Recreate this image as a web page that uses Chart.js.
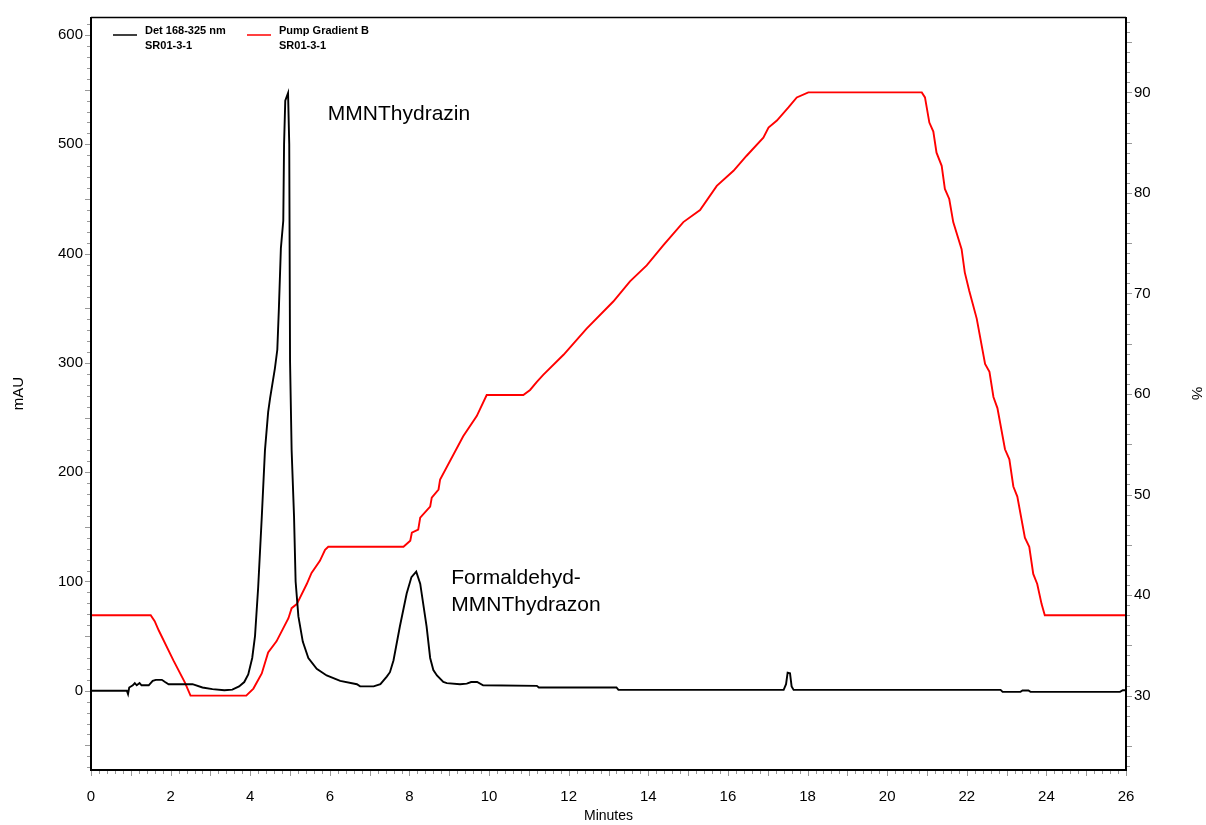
<!DOCTYPE html>
<html>
<head>
<meta charset="utf-8">
<title>SR01-3-1</title>
<script src="https://cdn.jsdelivr.net/npm/chart.js@4.4.1/dist/chart.umd.min.js"></script>
<style>
	body { margin: 0; background: #fff; }
	#wrap { width: 1206px; height: 825px; }
</style>
</head>
<body>
<div id="wrap"><canvas id="chromatogram" width="1206" height="825"></canvas></div>
<script>
'use strict';

// Det 168-325 nm (mAU) vs. minutes
const detTimes = [0, 0.9, 0.93, 0.96, 1.05, 1.1, 1.15, 1.22, 1.27, 1.45, 1.55, 1.63, 1.78, 1.86, 1.95, 2.55, 2.8, 3.05, 3.35, 3.55,
	3.72, 3.85, 3.95, 4.05, 4.12, 4.2, 4.29, 4.37, 4.45, 4.5, 4.62, 4.68, 4.72, 4.77, 4.83, 4.85, 4.88, 4.95, 4.98, 5.0,
	5.04, 5.1, 5.14, 5.21, 5.32, 5.46, 5.67, 5.92, 6.26, 6.68, 6.76, 7.1, 7.27, 7.43, 7.51, 7.6, 7.76, 7.93, 8.05, 8.17,
	8.27, 8.43, 8.52, 8.6, 8.69, 8.85, 8.94, 9.27, 9.44, 9.55, 9.7, 9.85, 11.2, 11.25, 13.2, 13.25, 17.4, 17.46, 17.5, 17.56,
	17.6, 17.65, 22.85, 22.9, 23.35, 23.4, 23.55, 23.6, 25.85, 25.92, 26];
const detValues = [0, 0, -3, 3, 5, 7, 5, 7, 5, 5, 9, 10, 10, 8, 6, 6, 3, 1.5, 0.5, 1,
	4, 8, 15, 30, 50, 95, 159, 220, 255, 268, 295, 312, 350, 405, 430, 500, 540, 547, 500, 302,
	220, 160, 100, 68, 45, 30, 20, 14, 9, 6, 4, 4, 6, 13, 17, 28, 59, 89, 104, 109,
	98, 59, 30, 19, 14, 8, 7, 6, 6.5, 8, 8, 5, 4.5, 3, 3, 0.8, 0.8, 6, 16.5, 16,
	4, 0.8, 0.8, -1, -1, 0.2, 0.2, -1, -1, 0.5, 0.5];

// Pump Gradient B (%) vs. minutes
const gradTimes = [0, 1.5, 1.6, 1.7, 2.07, 2.36, 2.5, 3.9, 4.08, 4.29, 4.45, 4.66, 4.96, 5.04, 5.17, 5.42, 5.54, 5.75, 5.88, 5.96,
	7.85, 8.02, 8.06, 8.22, 8.27, 8.52, 8.56, 8.73, 8.77, 9.35, 9.69, 9.94, 10.86, 11.03, 11.2, 11.36, 11.87, 12.45, 13.12, 13.54,
	13.96, 14.38, 14.88, 15.3, 15.72, 16.14, 16.47, 16.89, 17.02, 17.23, 17.52, 17.73, 18.02, 20.87, 20.95, 21.06, 21.16, 21.24, 21.37, 21.45,
	21.56, 21.66, 21.87, 21.95, 22.06, 22.25, 22.46, 22.57, 22.67, 22.77, 22.96, 23.07, 23.17, 23.27, 23.46, 23.57, 23.67, 23.77, 23.88, 23.96, 26];
const gradValues = [38, 38, 37.4, 36.5, 33.5, 31.3, 30, 30, 30.7, 32.2, 34.3, 35.4, 37.7, 38.7, 39.1, 41.1, 42.2, 43.4, 44.5, 44.8,
	44.8, 45.4, 46.2, 46.5, 47.7, 48.8, 49.7, 50.5, 51.5, 55.8, 57.8, 59.9, 59.9, 60.4, 61.2, 61.9, 63.9, 66.5, 69.2, 71.2,
	72.8, 74.8, 77.1, 78.3, 80.7, 82.2, 83.7, 85.5, 86.5, 87.2, 88.5, 89.5, 90, 90, 89.5, 87.0, 86.1, 84.0, 82.7, 80.4,
	79.4, 77.1, 74.4, 72.1, 70.3, 67.5, 63.0, 62.2, 59.7, 58.6, 54.5, 53.5, 50.8, 49.8, 45.7, 44.8, 42.1, 41.1, 39.1, 38.0, 38];

// tick labels
const minuteTicks = [0, 2, 4, 6, 8, 10, 12, 14, 16, 18, 20, 22, 24, 26];
const mauTicks = [0, 100, 200, 300, 400, 500, 600];
const percentTicks = [30, 40, 50, 60, 70, 80, 90];

// legend + peak names
const seriesNames = [['Det 168-325 nm', 'SR01-3-1'], ['Pump Gradient B', 'SR01-3-1']];
const peakLabels = [
	{ x: 5.95, y: 522, lines: ['MMNThydrazin'] },
	{ x: 9.05, y: 98, lines: ['Formaldehyd-', 'MMNThydrazon'] }
];

const FONT = '"Liberation Sans", Arial, sans-serif';

const toPoints = (xs, ys) => xs.map((x, i) => ({ x: x, y: ys[i] }));

// frame, small ticks, legend and peak names
const decorations = {
	id: 'decorations',
	afterDraw: chart => {
		const ctx = chart.ctx;
		const { left, right, top, bottom } = chart.chartArea;
		const sx = chart.scales.x, sy = chart.scales.y, sy1 = chart.scales.y1;

		ctx.save();

		// minor ticks
		ctx.strokeStyle = '#999999';
		ctx.lineWidth = 1;
		ctx.beginPath();
		for (let v = -7; v <= 61; v++) {
			const py = Math.round(sy.getPixelForValue(v * 10)) + 0.5;
			const len = v % 5 === 0 ? 6 : 4;
			ctx.moveTo(left - len, py);
			ctx.lineTo(left, py);
		}
		for (let v = 23; v <= 97; v++) {
			const py = Math.round(sy1.getPixelForValue(v)) + 0.5;
			const len = v % 5 === 0 ? 6 : 4;
			ctx.moveTo(right, py);
			ctx.lineTo(right + len, py);
		}
		for (let v = 0; v <= 130; v++) {
			const px = Math.round(sx.getPixelForValue(v / 5)) + 0.5;
			const len = v % 5 === 0 ? 6 : 4;
			ctx.moveTo(px, bottom);
			ctx.lineTo(px, bottom + len);
		}
		ctx.stroke();

		// frame
		ctx.strokeStyle = '#000';
		ctx.lineWidth = 2;
		ctx.beginPath();
		ctx.moveTo(left, top);
		ctx.lineTo(left, bottom);
		ctx.lineTo(right, bottom);
		ctx.lineTo(right, top);
		ctx.stroke();
		ctx.lineWidth = 1.5;
		ctx.beginPath();
		ctx.moveTo(left, top + 0.5);
		ctx.lineTo(right, top + 0.5);
		ctx.stroke();

		// legend
		const colors = chart.data.datasets.map(d => d.borderColor);
		const legendX = [left + 22, left + 156];
		ctx.font = 'bold 11px ' + FONT;
		ctx.fillStyle = '#000';
		ctx.textBaseline = 'alphabetic';
		ctx.textAlign = 'left';
		seriesNames.forEach((names, i) => {
			ctx.strokeStyle = colors[i];
			ctx.lineWidth = 1.5;
			ctx.beginPath();
			ctx.moveTo(legendX[i], top + 18);
			ctx.lineTo(legendX[i] + 24, top + 18);
			ctx.stroke();
			names.forEach((n, j) => {
				ctx.fillText(n, legendX[i] + 32, top + 17 + j * 15);
			});
		});

		// peak names
		ctx.font = '21px ' + FONT;
		peakLabels.forEach(p => {
			const px = sx.getPixelForValue(p.x);
			const py = sy.getPixelForValue(p.y);
			p.lines.forEach((l, j) => {
				ctx.fillText(l, px, py + j * 27);
			});
		});

		ctx.restore();
	}
};

const keepTicks = list => scale => {
	scale.ticks = list.map(v => ({ value: v }));
};

new Chart(document.getElementById('chromatogram').getContext('2d'), {
	type: 'line',
	data: {
		datasets: [
			{
				label: seriesNames[0].join(' '),
				data: toPoints(detTimes, detValues),
				yAxisID: 'y',
				borderColor: '#000000',
				borderWidth: 1.9,
				pointRadius: 0,
				tension: 0
			},
			{
				label: seriesNames[1].join(' '),
				data: toPoints(gradTimes, gradValues),
				yAxisID: 'y1',
				borderColor: '#ff0000',
				borderWidth: 1.9,
				pointRadius: 0,
				tension: 0
			}
		]
	},
	options: {
		responsive: false,
		animation: false,
		layout: { padding: { top: 15, left: 0, right: 0, bottom: 0 } },
		plugins: {
			legend: { display: false },
			tooltip: { enabled: false }
		},
		scales: {
			x: {
				type: 'linear',
				min: 0,
				max: 26,
				afterBuildTicks: keepTicks(minuteTicks),
				afterFit: s => { s.height = 55; },
				grid: { display: false, drawTicks: false },
				border: { display: false },
				ticks: { padding: 18, color: '#000', font: { family: FONT, size: 15 }, maxRotation: 0, autoSkip: false },
				title: { display: true, text: 'Minutes', color: '#000', font: { family: FONT, size: 14 }, padding: { top: 0, bottom: 0 } }
			},
			y: {
				type: 'linear',
				position: 'left',
				min: -72.5,
				max: 616.5,
				afterBuildTicks: keepTicks(mauTicks),
				afterFit: s => { s.width = 91; },
				grid: { display: false, drawTicks: false },
				border: { display: false },
				ticks: { padding: 8, color: '#000', font: { family: FONT, size: 15 } },
				title: { display: true, text: 'mAU', color: '#000', font: { family: FONT, size: 15 }, padding: { top: 10, bottom: 0 } }
			},
			y1: {
				type: 'linear',
				position: 'right',
				min: 22.6,
				max: 97.5,
				afterBuildTicks: keepTicks(percentTicks),
				afterFit: s => { s.width = 80; },
				grid: { display: false, drawTicks: false },
				border: { display: false },
				ticks: { padding: 8, color: '#000', font: { family: FONT, size: 15 } },
				title: { display: true, text: '%', color: '#000', font: { family: FONT, size: 15 }, padding: { top: 1, bottom: 0 } }
			}
		}
	},
	plugins: [decorations]
});
</script>
</body>
</html>
